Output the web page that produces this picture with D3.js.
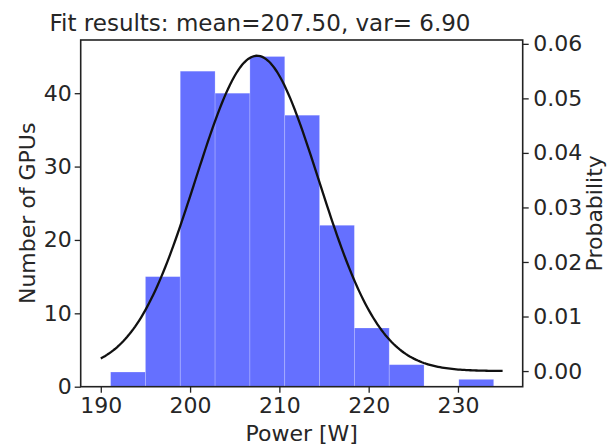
<!DOCTYPE html>
<html lang="en">
<head>
  <meta charset="UTF-8">
  <title>GPU power histogram</title>
  <style>
    body { margin: 0; background: #fff; }
    svg { display: block; }
    text { font-family: "DejaVu Sans", sans-serif; fill: #262626; }
  </style>
  <script src="https://d3js.org/d3.v7.min.js"></script>
</head>
<body>
  <div id="chart"></div>

  <script>
    // histogram bins (W) and counts
    const binEdges = [191.1, 195.0, 198.9, 202.8, 206.7, 210.6, 214.5, 218.4, 222.3, 226.2, 230.1, 234.0];
    const counts = [2, 15, 43, 40, 45, 37, 22, 8, 3, 0, 1];

    // normal fit shown in title
    const fitMean = 207.5;
    const fitSd = 6.9;
    const fitRange = [190, 235];

    const xTicks = [190, 200, 210, 220, 230];
    const yTicks = [0, 10, 20, 30, 40];
    const pTicks = [0, 0.01, 0.02, 0.03, 0.04, 0.05, 0.06];

    const width = 608, height = 445;
    const margin = {top: 40, right: 85.3, bottom: 58.3, left: 80.7};

    const svg = d3.create("svg")
        .attr("width", width)
        .attr("height", height);

    // fit curve
    const pdf = x => Math.exp(-0.5 * ((x - fitMean) / fitSd) ** 2) / (fitSd * Math.sqrt(2 * Math.PI));
    const curve = d3.range(0, 200).map(i => {
      const x = fitRange[0] + (fitRange[1] - fitRange[0]) * i / 199;
      return [x, pdf(x)];
    });

    // matplotlib-like 5% margins
    const xPad = (fitRange[1] - fitRange[0]) * 0.05;
    const x = d3.scaleLinear()
        .domain([fitRange[0] - xPad, fitRange[1] + xPad])
        .range([margin.left, width - margin.right]);

    const y = d3.scaleLinear()
        .domain([0, d3.max(counts) * 1.05])
        .range([height - margin.bottom, margin.top]);

    const pMin = d3.min(curve, d => d[1]), pMax = d3.max(curve, d => d[1]);
    const pPad = (pMax - pMin) * 0.05;
    const yp = d3.scaleLinear()
        .domain([pMin - pPad, pMax + pPad])
        .range([height - margin.bottom, margin.top]);

    svg.append("g")
      .selectAll("rect")
      .data(counts)
      .join("rect")
        .attr("x", (d, i) => x(binEdges[i]))
        .attr("width", (d, i) => x(binEdges[i + 1]) - x(binEdges[i]))
        .attr("y", d => y(d))
        .attr("height", d => y(0) - y(d))
        .attr("fill", "#6570ff")
        .attr("stroke", "rgba(255,255,255,0.25)")
        .attr("stroke-width", 0.8);

    svg.append("path")
        .datum(curve)
        .attr("fill", "none")
        .attr("stroke", "#111")
        .attr("stroke-width", 2.3)
        .attr("d", d3.line().x(d => x(d[0])).y(d => yp(d[1])));

    const fontSize = "22px";

    const gx = svg.append("g")
        .attr("transform", `translate(0,${height - margin.bottom})`)
        .call(d3.axisBottom(x).tickValues(xTicks).tickSize(6).tickPadding(5).tickFormat(d3.format("d")));
    const gy = svg.append("g")
        .attr("transform", `translate(${margin.left},0)`)
        .call(d3.axisLeft(y).tickValues(yTicks).tickSize(6).tickPadding(3).tickFormat(d3.format("d")));
    const gp = svg.append("g")
        .attr("transform", `translate(${width - margin.right},0)`)
        .call(d3.axisRight(yp).tickValues(pTicks).tickSize(6).tickPadding(4.5).tickFormat(d3.format(".2f")));

    [gx, gy, gp].forEach(g => {
      g.select(".domain").remove();
      g.selectAll(".tick line").attr("stroke", "#222").attr("stroke-width", 1.3);
      g.selectAll(".tick text")
          .attr("fill", "#262626")
          .style("font-family", "'DejaVu Sans', sans-serif")
          .style("font-size", fontSize);
    });

    // frame
    svg.append("rect")
        .attr("x", margin.left)
        .attr("y", margin.top)
        .attr("width", width - margin.left - margin.right)
        .attr("height", height - margin.top - margin.bottom)
        .attr("fill", "none")
        .attr("stroke", "#222")
        .attr("stroke-width", 1.6);

    svg.append("text")
        .attr("x", 260)
        .attr("y", 31)
        .attr("text-anchor", "middle")
        .style("font-size", "23px")
        .text(`Fit results: mean=${fitMean.toFixed(2)}, var= ${fitSd.toFixed(2)}`);

    svg.append("text")
        .attr("x", (margin.left + width - margin.right) / 2)
        .attr("y", 441)
        .attr("text-anchor", "middle")
        .style("font-size", fontSize)
        .text("Power [W]");

    const midY = (margin.top + height - margin.bottom) / 2;
    svg.append("text")
        .attr("transform", `translate(35,${midY}) rotate(-90)`)
        .attr("text-anchor", "middle")
        .style("font-size", fontSize)
        .text("Number of GPUs");

    svg.append("text")
        .attr("transform", `translate(602,${midY}) rotate(-90)`)
        .attr("text-anchor", "middle")
        .style("font-size", fontSize)
        .text("Probability");

    document.getElementById("chart").appendChild(svg.node());
  </script>
</body>
</html>
